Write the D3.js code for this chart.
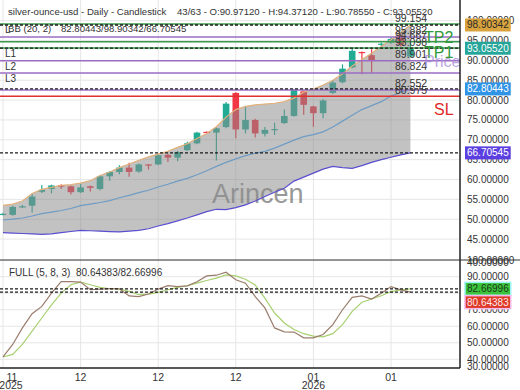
<!DOCTYPE html>
<html>
<head>
<meta charset="utf-8">
<script src="https://cdn.jsdelivr.net/npm/d3@7"></script>
<style>
  body { margin: 0; background: #fff; }
  svg text { font-family: "Liberation Sans", Arial, sans-serif; white-space: pre; }
</style>
</head>
<body>
<div id="chart"></div>
<script>
// candles (oldest -> newest)
var opens  = [51.3, 51.1, 53.1, 53.4, 56.9, 57.6, 58.6, 58.3, 56.8, 58.3, 57.6, 60.8, 61.9, 63.0, 62.0, 63.8, 63.8, 66.2, 65.5, 67.4, 69.1, 72.0, 71.8, 73.2, 81.8, 72.6, 75.0, 71.5, 72.4, 74.2, 76.0, 82.2, 78.4, 76.7, 81.8, 84.5, 88.2, 92.1, 91.3, 93.9, 94.5, 96.2, 90.9712];
var highs  = [51.6, 53.4, 53.6, 56.4, 58.6, 58.7, 58.8, 58.5, 58.9, 58.5, 61.0, 62.1, 63.6, 64.2, 64.0, 63.9, 66.3, 66.5, 67.2, 69.5, 72.0, 72.1, 73.1, 79.5, 82.0, 78.4, 75.3, 73.2, 74.3, 77.6, 82.8, 82.4, 78.6, 80.3, 85.0, 89.0, 93.0, 92.2, 92.8, 94.5, 95.8, 96.8, 94.3712];
var lows   = [51.0, 50.9, 52.9, 51.7, 56.6, 56.5, 57.6, 56.2, 56.6, 57.0, 57.2, 59.7, 61.3, 60.7, 61.7, 62.5, 63.6, 64.4, 64.6, 67.2, 68.9, 71.7, 64.8, 72.9, 70.4, 71.6, 70.6, 70.8, 71.2, 74.0, 75.8, 76.3, 73.3, 75.4, 81.5, 84.2, 88.0, 86.5, 86.9, 93.6, 94.2, 93.5, 90.7855];
var closes = [51.35, 53.1, 53.25, 55.7, 57.4, 58.5, 58.2, 56.8, 58.0, 57.9, 60.8, 61.9, 63.0, 61.9, 63.8, 63.6, 66.1, 65.5, 66.9, 69.1, 71.8, 71.8, 72.9, 79.1, 72.6, 75.0, 71.6, 72.5, 72.7, 76.0, 82.5, 78.8, 76.7, 79.9, 84.4, 87.9, 92.4, 91.9, 89.9, 94.2, 95.4, 94.0, 93.0552];

// bollinger bands (20, 2)
var bbUpper = [53.5, 53.8, 54.6, 56.5, 57.5, 58.0, 58.5, 58.7, 59.1, 59.7, 61.0, 61.9, 63.0, 63.9, 64.8, 65.7, 66.4, 67.1, 68.1, 69.0, 70.3, 71.6, 73.3, 75.7, 77.6, 78.4, 78.8, 79.0, 79.2, 79.6, 80.5, 82.0, 82.8, 83.8, 85.0, 86.6, 88.6, 90.2, 91.8, 93.5, 95.2, 97.0, 98.90342];
var bbMiddle = [49.8, 50.0, 50.3, 50.8, 51.4, 51.8, 52.2, 52.7, 53.4, 53.8, 54.2, 54.7, 55.4, 56.0, 56.7, 57.3, 58.1, 58.8, 59.6, 60.3, 61.2, 62.2, 63.3, 64.3, 65.2, 66.0, 66.6, 67.1, 67.9, 68.9, 69.9, 70.8, 71.3, 72.0, 73.2, 74.7, 76.2, 77.6, 78.6, 79.6, 81.0, 81.9, 82.80443];
var bbLower = [46.6, 46.5, 46.4, 46.3, 46.2, 46.3, 46.6, 46.9, 47.2, 47.1, 47.0, 46.9, 46.8, 47.0, 47.2, 47.6, 48.3, 48.9, 49.6, 50.3, 51.1, 51.9, 52.5, 52.4, 52.9, 53.6, 54.6, 55.7, 56.8, 57.8, 59.6, 60.6, 61.6, 62.6, 63.3, 63.0, 62.8, 63.5, 64.3, 65.0, 65.6, 66.2, 66.70545];

// full stochastic (5, 8, 3)
var stochK = [41.4, 49.0, 59.0, 67.6, 72.0, 80.1, 87.0, 87.0, 86.7, 82.1, 82.5, 82.8, 82.7, 78.4, 78.0, 79.5, 82.5, 84.6, 84.0, 84.5, 86.9, 90.5, 90.9, 92.7, 88.1, 86.1, 78.0, 71.1, 59.0, 56.6, 56.5, 53.0, 53.0, 55.0, 61.0, 70.0, 77.5, 78.4, 76.5, 80.0, 84.0, 82.0, 80.64383];
var stochD = [41.4, 43.0, 49.0, 57.0, 65.0, 73.0, 80.1, 85.1, 86.7, 85.1, 83.5, 82.7, 82.5, 81.1, 79.1, 79.5, 80.5, 82.1, 83.5, 84.5, 86.1, 87.7, 89.1, 91.1, 90.5, 88.5, 85.0, 77.0, 68.0, 62.0, 58.0, 55.5, 54.0, 53.6, 55.5, 61.0, 69.0, 74.5, 76.5, 78.5, 81.0, 82.0, 82.66996];

// level lines drawn on the chart
var levelValues = [99.154, 95.882, 94.667, 93.098, 89.901, 86.824, 82.552, 80.975];
var levelColors = ["#3a9a4a", "#9b6cc4", "#3a9a4a", "#3a9a4a", "#9b6cc4", "#9b6cc4", "#9b6cc4", "#e03030"];
var levelLeftNames = ["L", "", "", "L1", "L2", "L3", "", ""];

// x axis ticks
var tickIndex = [0, 8, 16, 24, 32, 40];
var tickMonths = ["11", "12", "12", "12", "01", "01"];
var tickYears = ["2025", "", "", "", "2026", ""];

var priceTicks = [45, 50, 55, 60, 65, 70, 75, 80, 85, 90, 95, 100];
var stochTicks = [30, 40, 50, 60, 70, 80, 90, 100];

var width = 520, height = 390;
var axisX = 460;
var mainTop = 0, mainBottom = 260;
var lowTop = 260, lowBottom = 368;

var svg = d3.select("#chart").append("svg")
    .attr("width", width)
    .attr("height", height);

var x = d3.scaleLinear().domain([0, 42]).range([3, 410.4]);
var y = d3.scaleLinear().domain([60, 95]).range([179.5, 40.5]);
var ys = d3.scaleLinear().domain([40, 90]).range([359.3, 276.7]);

svg.append("defs").append("clipPath").attr("id", "clipMain")
    .append("rect").attr("x", 0).attr("y", mainTop).attr("width", axisX).attr("height", mainBottom - mainTop);
svg.select("defs").append("clipPath").attr("id", "clipLow")
    .append("rect").attr("x", 0).attr("y", lowTop).attr("width", axisX).attr("height", lowBottom - lowTop);

// grid
var grid = svg.append("g").attr("stroke", "#e6e6e6").attr("stroke-width", 1);
grid.selectAll(".gx").data(tickIndex).enter().append("line")
    .attr("x1", d => x(d)).attr("x2", d => x(d))
    .attr("y1", 0).attr("y2", lowBottom);
grid.selectAll(".gy").data(priceTicks).enter().append("line")
    .attr("x1", 0).attr("x2", axisX)
    .attr("y1", d => y(d)).attr("y2", d => y(d))
    .attr("clip-path", "url(#clipMain)");
grid.selectAll(".gs").data(stochTicks).enter().append("line")
    .attr("x1", 0).attr("x2", axisX)
    .attr("y1", d => ys(d)).attr("y2", d => ys(d))
    .attr("clip-path", "url(#clipLow)");

var main = svg.append("g").attr("clip-path", "url(#clipMain)");

// watermark
main.append("text")
    .attr("x", 212).attr("y", 203)
    .style("font-size", "27px")
    .attr("fill", "#555").attr("opacity", 0.6)
    .text("Arincen");

// candles
var idx = d3.range(opens.length);
var candle = main.selectAll(".candle").data(idx).enter().append("g").attr("class", "candle");
function candleColor(i) { return closes[i] >= opens[i] ? "#22ab94" : "#f23645"; }
candle.append("line")
    .attr("x1", i => x(i)).attr("x2", i => x(i))
    .attr("y1", i => y(highs[i])).attr("y2", i => y(lows[i]))
    .attr("stroke", candleColor).attr("stroke-width", 1.2);
candle.append("rect")
    .attr("x", i => x(i) - 3.3)
    .attr("width", 6.6)
    .attr("y", i => y(Math.max(opens[i], closes[i])))
    .attr("height", i => Math.max(1.2, Math.abs(y(opens[i]) - y(closes[i]))))
    .attr("fill", candleColor);

// band fill over the candles
var area = d3.area()
    .x((d, i) => x(i))
    .y0((d, i) => y(bbLower[i]))
    .y1((d, i) => y(bbUpper[i]));
main.append("path").datum(bbUpper)
    .attr("d", area)
    .attr("fill", "#8a8a8a").attr("opacity", 0.52);

function bandLine(arr, color) {
    main.append("path").datum(arr)
        .attr("d", d3.line().x((d, i) => x(i)).y(d => y(d)))
        .attr("fill", "none").attr("stroke", color).attr("stroke-width", 1.2);
}
bandLine(bbUpper, "#e2b07c");
bandLine(bbMiddle, "#6f9cc4");
bandLine(bbLower, "#5a4fd0");

// level lines
main.selectAll(".level").data(levelValues).enter().append("line")
    .attr("x1", 0).attr("x2", axisX)
    .attr("y1", d => y(d)).attr("y2", d => y(d))
    .attr("stroke", (d, i) => levelColors[i]).attr("stroke-width", 1.4);

// current value dashed lines
var dashValues = [bbUpper[42], closes[42], bbMiddle[42], bbLower[42]];
main.selectAll(".dash").data(dashValues).enter().append("line")
    .attr("x1", 0).attr("x2", axisX)
    .attr("y1", d => y(d)).attr("y2", d => y(d))
    .attr("stroke", "#1a1a1a").attr("stroke-width", 1.3)
    .attr("stroke-dasharray", "3,2");

// small level values on the right
main.selectAll(".lvlText").data(levelValues).enter().append("text")
    .attr("x", 395).attr("y", d => y(d) - 2.5)
    .style("font-size", "10.5px").attr("fill", "#333")
    .text(d => d.toFixed(3));

// left level names
main.selectAll(".lvlName").data(levelValues).enter().append("text")
    .attr("x", 5).attr("y", d => y(d) + 9)
    .style("font-size", "10px").attr("fill", "#333")
    .text((d, i) => levelLeftNames[i]);

// big labels
var bigLabels = [
    { text: "TP2", v: levelValues[2], dy: 1, color: "#2f9a3c", op: 1 },
    { text: "TP1", v: levelValues[3], dy: 9.5, color: "#2f9a3c", op: 1 },
    { text: "Price", v: levelValues[4], dy: 6, color: "#a58cd8", op: 0.75 },
    { text: "SL", v: levelValues[7], dy: 19, color: "#e02828", op: 1 }
];
main.selectAll(".big").data(bigLabels).enter().append("text")
    .attr("x", d => d.text == "SL" ? 434 : 424)
    .attr("y", d => y(d.v) + d.dy)
    .style("font-size", "16px")
    .attr("fill", d => d.color).attr("opacity", d => d.op)
    .text(d => d.text);

// header
svg.append("text").attr("x", 8).attr("y", 15)
    .style("font-size", "9.6px").attr("fill", "#333")
    .text("silver-ounce-usd - Daily - Candlestick    43/63 - O:90.97120 - H:94.37120 - L:90.78550 - C:93.05520");
svg.append("text").attr("x", 8).attr("y", 32)
    .style("font-size", "9.6px").attr("fill", "#333")
    .text("BB (20, 2)");
svg.append("text").attr("x", 61).attr("y", 32)
    .style("font-size", "9.6px").attr("fill", "#333")
    .text("82.80443/98.90342/66.70545");

// stochastic panel
var low = svg.append("g").attr("clip-path", "url(#clipLow)");
var sLine = d3.line().x((d, i) => x(i)).y(d => ys(d));
low.append("path").datum(stochD).attr("d", sLine)
    .attr("fill", "none").attr("stroke", "#a8d070").attr("stroke-width", 1.2);
low.append("path").datum(stochK).attr("d", sLine)
    .attr("fill", "none").attr("stroke", "#9a7d6c").attr("stroke-width", 1.2);
low.selectAll(".sdash").data([stochD[42], stochK[42]]).enter().append("line")
    .attr("x1", 0).attr("x2", axisX)
    .attr("y1", d => ys(d)).attr("y2", d => ys(d))
    .attr("stroke", "#1a1a1a").attr("stroke-width", 1.3)
    .attr("stroke-dasharray", "3,2");
svg.append("text").attr("x", 9).attr("y", 276)
    .style("font-size", "10px").attr("fill", "#333")
    .text("FULL (5, 8, 3)");
svg.append("text").attr("x", 76).attr("y", 276)
    .style("font-size", "10px").attr("fill", "#333")
    .text("80.64383/82.66996");

// frame lines
svg.append("line").attr("x1", 0).attr("x2", width).attr("y1", lowTop).attr("y2", lowTop)
    .attr("stroke", "#333").attr("stroke-width", 1);
svg.append("line").attr("x1", 0).attr("x2", axisX).attr("y1", lowBottom).attr("y2", lowBottom)
    .attr("stroke", "#222").attr("stroke-width", 1.5);
svg.append("line").attr("x1", axisX).attr("x2", axisX).attr("y1", 0).attr("y2", lowBottom)
    .attr("stroke", "#222").attr("stroke-width", 1.5);

// right axis labels
var ax = svg.append("g").style("font-size", "10px").attr("fill", "#333");
ax.selectAll(".pt").data(priceTicks).enter().append("text")
    .attr("x", 467).attr("y", d => y(d)).attr("dy", "0.35em")
    .text(d => d.toFixed(5));
ax.selectAll(".st").data(stochTicks.concat([40])).enter().append("text")
    .attr("x", 467)
    .attr("y", (d, i) => i == stochTicks.length ? 262 : Math.min(ys(d), 366))
    .attr("dy", "0.35em")
    .text(d => d.toFixed(5));

// value tags
function tag(val, yy, bg, fg, border) {
    var g = svg.append("g");
    var r = g.append("rect").attr("x", 465).attr("y", yy - 6.5).attr("height", 13)
        .attr("fill", bg);
    if (border) r.attr("stroke", border).attr("stroke-width", 1.5);
    var t = g.append("text").attr("x", 467).attr("y", yy).attr("dy", "0.35em")
        .style("font-size", "10px").attr("fill", fg).text(val.toFixed(5));
    r.attr("width", t.node().getComputedTextLength() + 4);
}
tag(bbUpper[42], y(bbUpper[42]), "#d8a23c", "#2a2a2a");
tag(closes[42], y(closes[42]), "#26a69a", "#fff");
tag(bbMiddle[42], y(bbMiddle[42]), "#2f93e6", "#fff");
tag(bbLower[42], y(bbLower[42]), "#5b3fe0", "#fff");
tag(stochD[42], ys(stochD[42]), "#3cc43c", "#1a3a1a", "#9ef4f4");
tag(stochK[42], ys(stochK[42]) + 10, "#dd3a28", "#ffe8e8", "#f8b8e8");

// x axis labels
var xl = svg.append("g").style("font-size", "10.5px").attr("fill", "#333").attr("text-anchor", "middle");
xl.selectAll(".m").data(tickIndex).enter().append("text")
    .attr("x", d => Math.max(x(d), 12)).attr("y", 381)
    .text((d, i) => tickMonths[i]);
xl.selectAll(".yr").data(tickIndex).enter().append("text")
    .attr("x", d => Math.max(x(d), 11)).attr("y", 389)
    .text((d, i) => tickYears[i]);
</script>
</body>
</html>
